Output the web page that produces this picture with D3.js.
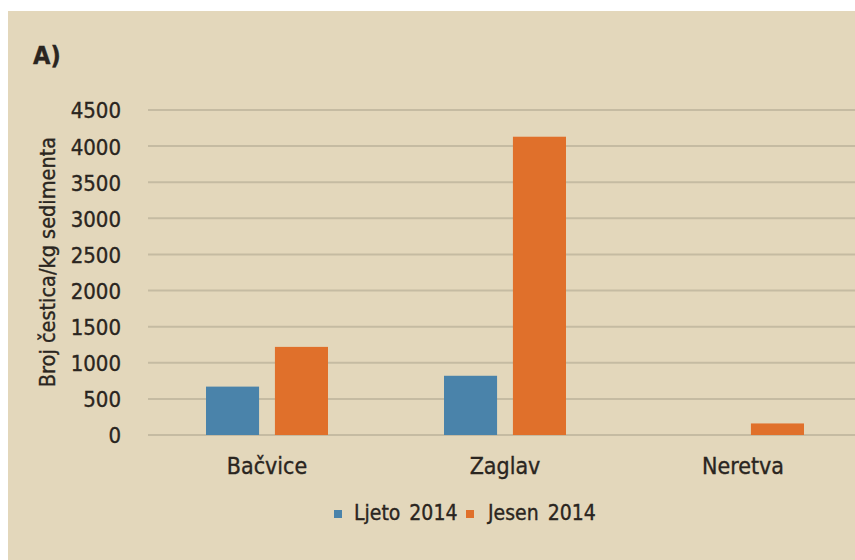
<!DOCTYPE html>
<html>
<head>
<meta charset="utf-8">
<script src="https://cdn.jsdelivr.net/npm/d3@7"></script>
<style>
  html, body { margin: 0; padding: 0; background: #fff; }
  svg text { font-family: "DejaVu Sans Condensed", "DejaVu Sans", sans-serif; font-stretch: condensed; fill: #2a2520; stroke: #2a2520; stroke-width: 0.35px; }
</style>
</head>
<body>
<script>
// podaci
var lokacije = ["Bačvice", "Zaglav", "Neretva"];
var serije = ["Ljeto 2014", "Jesen 2014"];
var ljeto = [670, 820, 0];
var jesen = [1220, 4130, 160];
var yTicks = [0, 500, 1000, 1500, 2000, 2500, 3000, 3500, 4000, 4500];
var boje = ["#4a83aa", "#e0702b"];

var W = 855, H = 560;
var svg = d3.select("body").append("svg").attr("width", W).attr("height", H);

// pozadina
svg.append("rect").attr("x", 8).attr("y", 11).attr("width", W - 8).attr("height", H - 11).attr("fill", "#e3d7bb");

var y = d3.scaleLinear().domain([0, 4500]).range([435, 110]);
var x0 = d3.scaleBand().domain(lokacije).range([148, 862]).padding(0);
var x1 = d3.scaleBand().domain(serije).range([58, 180]).paddingInner(0.23);

// mreža
svg.append("g").selectAll("line")
    .data(yTicks)
    .enter()
    .append("line")
    .attr("x1", 148)
    .attr("x2", W)
    .attr("y1", d => y(d))
    .attr("y2", d => y(d))
    .attr("stroke", "#c5bba2")
    .attr("stroke-width", 2);

// os y
var yAxis = d3.axisLeft(y).tickValues(yTicks).tickFormat(d3.format("d")).tickSize(0).tickPadding(0);
var gy = svg.append("g").attr("transform", "translate(121,0)").call(yAxis);
gy.select(".domain").remove();
gy.selectAll("text").attr("font-size", 22).attr("dy", "0.36em");

// stupci
var table = lokacije.map((l, i) => ({ lok: l, vals: [ljeto[i], jesen[i]] }));
var grupe = svg.append("g").selectAll("g")
    .data(table)
    .enter()
    .append("g")
    .attr("transform", d => "translate(" + x0(d.lok) + ",0)");
grupe.selectAll("rect")
    .data(d => d.vals.map((v, j) => ({ s: serije[j], v: v, j: j })))
    .enter()
    .append("rect")
    .filter(d => d.v > 0)
    .attr("x", d => x1(d.s))
    .attr("width", x1.bandwidth())
    .attr("y", d => y(d.v))
    .attr("height", d => y(0) - y(d.v))
    .attr("fill", d => boje[d.j]);

// os x
var xAxis = d3.axisBottom(x0).tickSize(0).tickPadding(0);
var gx = svg.append("g").attr("transform", "translate(0,474)").call(xAxis);
gx.select(".domain").remove();
gx.selectAll("text").attr("font-size", 23).attr("dy", "0");

// naslov osi
svg.append("text")
    .attr("transform", "translate(55,262) rotate(-90)")
    .attr("text-anchor", "middle")
    .attr("font-size", 21.5)
    .text("Broj čestica/kg sedimenta");

// oznaka
svg.append("text")
    .attr("x", 33).attr("y", 64)
    .attr("font-size", 25)
    .attr("font-weight", "bold")
    .text("A)");

// legenda
var legX = [334, 466];
var leg = svg.append("g").selectAll("g")
    .data(serije)
    .enter()
    .append("g")
    .attr("transform", (d, i) => "translate(" + legX[i] + ",508)");
leg.append("rect").attr("width", 8).attr("height", 8).attr("y", 2).attr("fill", (d, i) => boje[i]);
leg.append("text").attr("x", (d, i) => i ? 22 : 20).attr("y", 12).attr("font-size", 21).attr("word-spacing", 3).text(d => d);
</script>
</body>
</html>
